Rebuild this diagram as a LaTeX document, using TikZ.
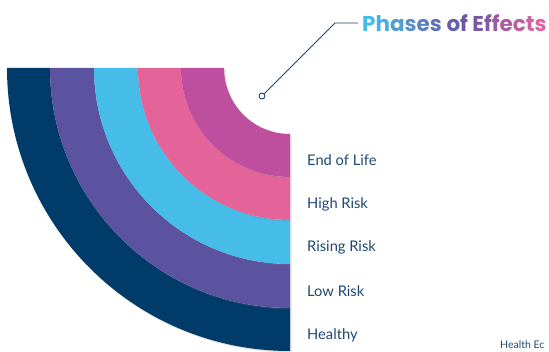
\documentclass[tikz,border=0pt]{standalone}
\usepackage{fontspec}
\setmainfont{Lato}
\newfontfamily\titlefont{Poppins}
\usetikzlibrary{shadows}

\definecolor{phaseNavy}{HTML}{003B69}
\definecolor{phasePurple}{HTML}{5B52A0}
\definecolor{phaseCyan}{HTML}{45BDE8}
\definecolor{phasePink}{HTML}{E4649A}
\definecolor{phaseMagenta}{HTML}{BE4F9E}
\definecolor{labelNavy}{HTML}{1D4774}
\definecolor{titleA}{HTML}{45BDE8}
\definecolor{titleB}{HTML}{6A57A6}
\definecolor{titleC}{HTML}{E2619D}

\begin{document}
\begin{tikzpicture}[
    x=1pt, y=1pt,
    band/.style={drop shadow={shadow xshift=1.5pt, shadow yshift=-1.5pt,
                 opacity=0.22}},
    phase/.style={anchor=west, text=labelNavy, font=\fontsize{14.7}{16}\selectfont,
                  inner sep=0pt},
    leader/.style={draw=labelNavy, line width=0.9pt},
    dot/.style={circle, draw=labelNavy, fill=white, line width=0.9pt,
                minimum size=6pt, inner sep=0pt},
]
\useasboundingbox (0,0) rectangle (549,351);

% ---------- Quarter rings (outer to inner) ----------
\coordinate (centre) at (290,283);
\foreach \ro/\ri/\col in {283/240/phaseNavy, 240/196/phasePurple,
                          196/152/phaseCyan, 152/109/phasePink,
                          109/66/phaseMagenta}{
  \fill[band, \col] (centre) ++(-\ro,0)
      arc[start angle=180, end angle=270, radius=\ro pt]
      -- ++(0,\ro-\ri)
      arc[start angle=270, end angle=180, radius=\ri pt] -- cycle;
}

% ---------- Phase labels ----------
\node[phase] (life)   at (307,191) {End of Life};
\node[phase] (high)   at (307,147) {High Risk};
\node[phase] (rising) at (307,104) {Rising Risk};
\node[phase] (low)    at (307,60)  {Low Risk};
\node[phase] (health) at (307,16)  {Healthy};

% ---------- Title with leader ----------
\node[anchor=west, inner sep=0pt, font=\titlefont\bfseries\fontsize{21.5}{23}\selectfont]
    (title) at (362,328)
    {\textcolor{titleA}{P}\textcolor{titleB!15!titleA}{h}%
     \textcolor{titleB!30!titleA}{a}\textcolor{titleB!45!titleA}{s}%
     \textcolor{titleB!60!titleA}{e}\textcolor{titleB!75!titleA}{s} %
     \textcolor{titleB!90!titleA}{o}\textcolor{titleB}{f} %
     \textcolor{titleC!10!titleB}{E}\textcolor{titleC!25!titleB}{f}%
     \textcolor{titleC!40!titleB}{f}\textcolor{titleC!55!titleB}{e}%
     \textcolor{titleC!70!titleB}{c}\textcolor{titleC!85!titleB}{t}%
     \textcolor{titleC}{s}};

\node[dot] (pin) at (262,255) {};
\coordinate (bend) at (335,328);
\draw[leader] (pin) -- (bend) -- ([xshift=-4pt]title.west);

% ---------- Source note ----------
\node[anchor=base west, text=labelNavy, font=\fontsize{10.5}{12}\selectfont, inner sep=0pt]
    (source) at (500,2.5) {Health Ec};

\end{tikzpicture}
\end{document}
